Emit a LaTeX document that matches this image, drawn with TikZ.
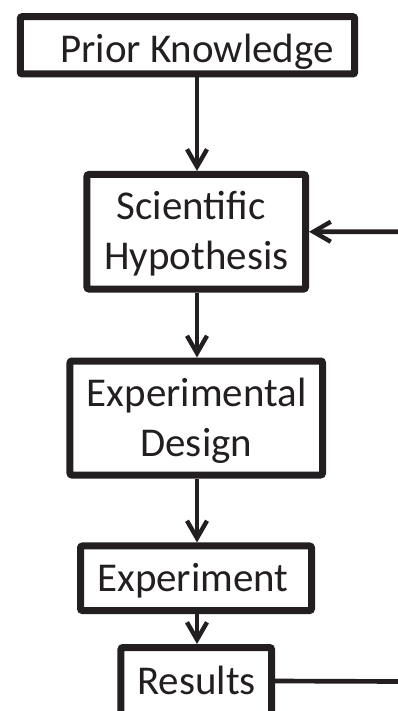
\documentclass[tikz,border=0pt]{standalone}
\usepackage{fontspec}
\setmainfont{Carlito}
\usetikzlibrary{arrows.meta}
\definecolor{ink}{HTML}{231F20}
\begin{document}
\begin{tikzpicture}[x=0.75pt,y=-0.75pt,
  box/.style={draw=ink,line width=5.25pt,rounded corners=1.5pt,inner sep=0pt},
  lbl/.style={anchor=base,inner sep=0pt,text=ink,font=\fontsize{30.7pt}{36pt}\selectfont},
  conn/.style={draw=ink,line width=3.5pt},
  arr/.style={conn,-{Straight Barb[length=13pt,width=15pt,line width=3.3pt]}}]
\useasboundingbox (0,0) rectangle (398,711);
\clip (0,0) rectangle (398,711);
% boxes
\node[box,minimum width=250.8pt,minimum height=43pt] (b1) at (187.5,45.3) {};
\node[box,minimum width=163.9pt,minimum height=85.9pt] (b2) at (196.25,231.75) {};
\node[box,minimum width=189.4pt,minimum height=85.5pt] (b3) at (196.25,418) {};
\node[box,minimum width=173.25pt,minimum height=48.4pt] (b4) at (196,578.25) {};
\node[box,minimum width=112.9pt,minimum height=50.25pt] (b5) at (196.25,681) {};
% texts
\node[lbl] (t1) at (197,62.7) {Prior Knowledge};
\node[lbl] (t2a) at (191,219) {Scientific};
\node[lbl] (t2b) at (196.5,269) {Hypothesis};
\node[lbl] (t3a) at (196.7,406.7) {Experimental};
\node[lbl] (t3b) at (196.3,456.7) {Design};
\node[lbl] (t4) at (193,591.7) {Experiment};
\node[lbl] (t5) at (196.7,694) {Results};
% connectors
\draw[arr] (b1.south -| 197,0) -- (b2.north -| 197,0);
\draw[arr] (b2.south -| 197,0) -- (b3.north -| 197,0);
\draw[arr] (b3.south -| 197,0) -- (b4.north -| 197,0);
\draw[arr] (b4.south -| 197,0) -- (b5.north -| 197,0);
\coordinate (fb) at (400,231.7);
\coordinate (rs) at (400,681.5);
\draw[arr] (fb) -- (b2.east);
\draw[conn] (b5.east) -- (rs);
\end{tikzpicture}
\end{document}
